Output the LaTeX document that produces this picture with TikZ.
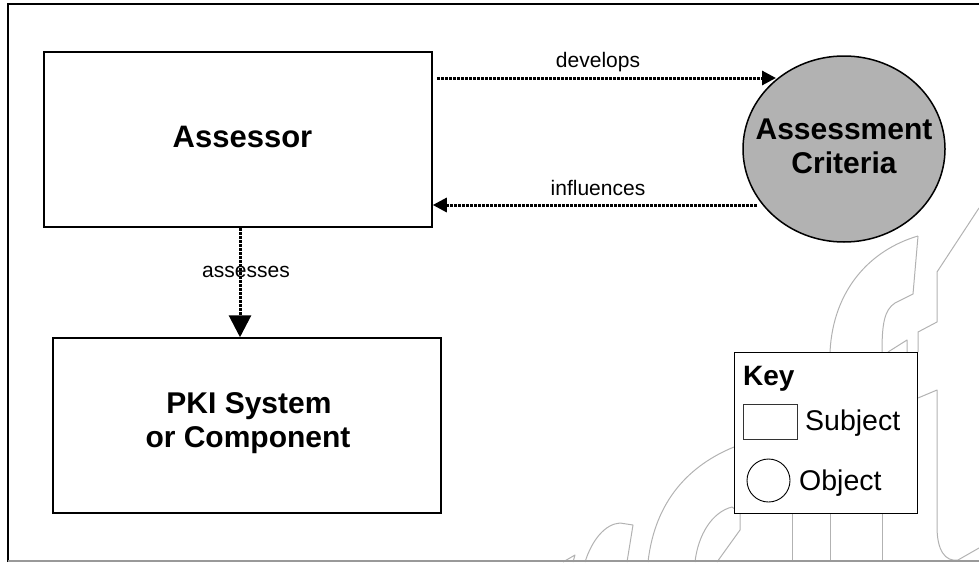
\documentclass[tikz,border=0pt]{standalone}
\usepackage{fontspec}
\setmainfont{Liberation Sans}
\usetikzlibrary{arrows.meta,shapes.geometric}
\begin{document}
\begin{tikzpicture}[x=1pt,y=-1pt,
  box/.style={draw=black,line width=1.5pt,fill=white,inner sep=0pt,minimum width=388pt,minimum height=175pt},
  bigtext/.style={font=\fontsize{30}{34}\selectfont\bfseries,anchor=base,inner sep=0pt},
  lbl/.style={font=\fontsize{21}{24}\selectfont,anchor=base,inner sep=0pt},
  rel/.style={line width=3pt,dash pattern=on 3pt off 1pt},
  smallhead/.style={-{Triangle[length=14pt,width=14pt]}},
  bighead/.style={-{Triangle[length=22pt,width=22pt]}},
  wm/.style={draw=black!30,line width=1pt,line join=round},
  keytext/.style={font=\fontsize{28.5}{32}\selectfont,anchor=base west,inner sep=0pt}]
\useasboundingbox (0,0) rectangle (979,562);
% watermark
\begin{scope}
\clip (0,0) rectangle (979,562);
\draw[wm] (979,208) -- (937,272) -- (937,322) -- (918,332) -- (918,352);
\draw[wm] (918,236) .. controls (870,250) and (833,290) .. (830,352);
\draw[wm] (918,236) -- (913,294) -- (895,303) .. controls (884,310) and (882,325) .. (882,352);
\draw[wm] (888,352) -- (907,340) -- (907,352);
\draw[wm] (792,513) -- (792,562);
\draw[wm] (830,513) -- (830,562);
\draw[wm] (882,513) -- (882,562);
\draw[wm] (918,398) -- (937,390) -- (937,527) .. controls (937,550) and (945,562) .. (958,560) -- (979,548);
\draw[wm] (734,447) .. controls (690,465) and (655,500) .. (648,562);
\draw[wm] (695,562) .. controls (698,535) and (712,512) .. (732,507) -- (740,513) -- (740,530) -- (717,562);
\draw[wm] (585,562) .. controls (592,540) and (605,524) .. (620,523) -- (633,525) -- (627,562);
\draw[wm] (563,562) -- (575,555) -- (573,562);
% frame
\draw[line width=2pt] (8,562) -- (8,4) -- (990,4);
\draw[line width=1.5pt,draw=black!40] (8,560.8) -- (990,560.8);
\end{scope}
% main nodes
\node[box] (A) at (238,139.5) {};
\node[bigtext,font=\fontsize{31}{34}\selectfont\bfseries] (At) at (242.5,147) {Assessor};
\node[box] (P) at (247,425.5) {};
\node[bigtext] (Pt1) at (249,413) {PKI System};
\node[bigtext] (Pt2) at (248,447) {or Component};
\node[ellipse,draw=black,line width=1.5pt,fill=black!30,inner sep=0pt,minimum width=202pt,minimum height=186pt] (C) at (844,149) {};
\node[bigtext] (Ct1) at (844,139) {Assessment};
\node[bigtext] (Ct2) at (844,173) {Criteria};
% connectors
\coordinate (dve) at (776,78);
\coordinate (ifs) at (757,205);
\coordinate (asx) at (240,300);
\draw[rel,smallhead,shorten <=4pt] (A.east |- dve) -- (dve);
\draw[rel,smallhead] (ifs) -- (A.east |- ifs);
\draw[rel,bighead] (A.south -| asx) -- (P.north -| asx);
\node[lbl] (l1) at (598,67) {develops};
\node[lbl] (l2) at (598,195) {influences};
\node[lbl] (l3) at (246,277) {assesses};
% key
\node[draw=black,line width=1pt,fill=white,inner sep=0pt,minimum width=183pt,minimum height=161pt] (K) at (825.5,432.5) {};
\node[font=\fontsize{28}{32}\selectfont\bfseries,anchor=base west,inner sep=0pt] (Kt) at (743,385) {Key};
\node[draw=black!80,line width=0.9pt,inner sep=0pt,minimum width=54pt,minimum height=35pt] (Ks) at (770,421.5) {};
\node[keytext] (Kst) at (805,430) {Subject};
\node[circle,draw=black,line width=0.9pt,inner sep=0pt,minimum size=43pt] (Ko) at (768.5,480.5) {};
\node[keytext] (Kot) at (799,490) {Object};
\end{tikzpicture}
\end{document}
